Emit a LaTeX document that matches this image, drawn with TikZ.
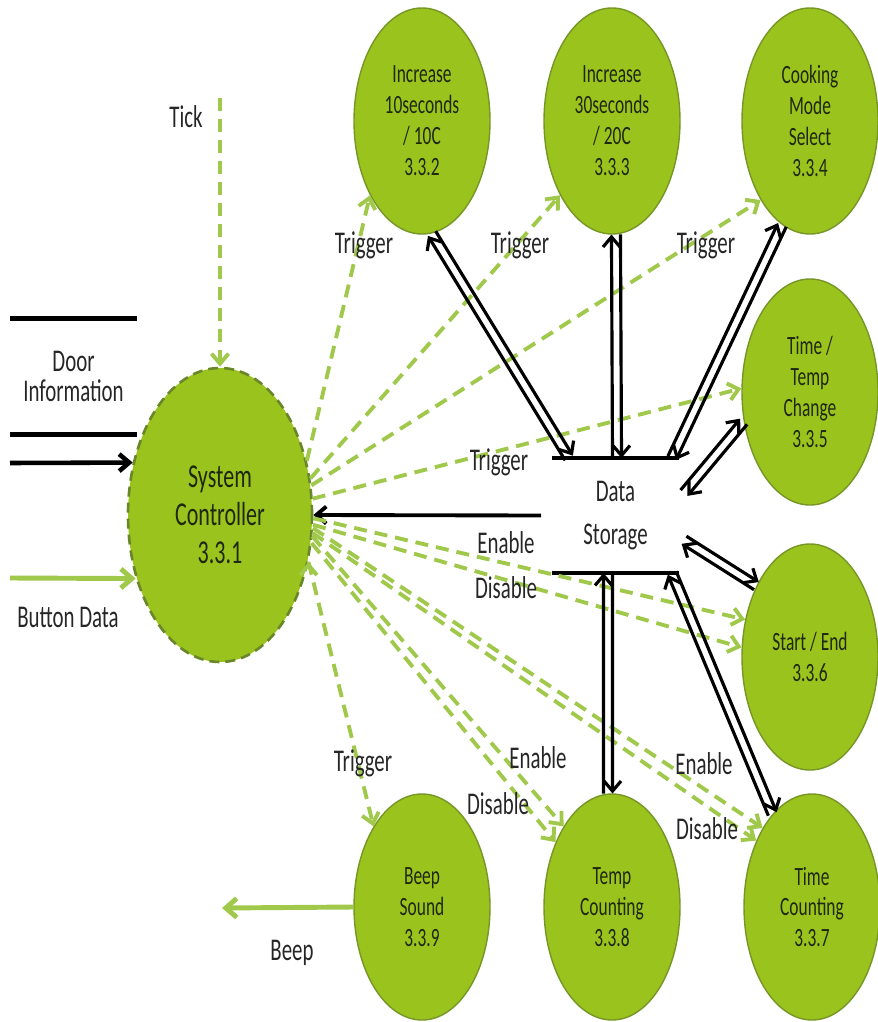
\documentclass[tikz,border=0pt]{standalone}
\usepackage{fontspec}
\setmainfont[FakeStretch=0.66]{Carlito}
\usetikzlibrary{shapes.geometric, arrows.meta, calc}

\definecolor{bubble}{RGB}{155,195,30}
\definecolor{bubbleedge}{RGB}{118,150,38}
\definecolor{ctrledge}{RGB}{105,135,40}
\definecolor{signal}{RGB}{160,200,75}
\definecolor{inktext}{RGB}{30,40,15}

\tikzset{
  proc/.style={ellipse, draw=bubbleedge, line width=0.8pt, fill=bubble, minimum width=27.2mm,
    minimum height=45.2mm, inner sep=0pt, align=center, text=inktext,
    font=\fontsize{15}{17.6}\selectfont},
  sysctrl/.style={draw=ctrledge, line width=1.5pt, dash pattern=on 2mm off 1.2mm,
    minimum width=36.8mm, minimum height=58.8mm, font=\fontsize{19}{21.5}\selectfont},
  lbl/.style={font=\fontsize{18}{21}\selectfont, inner sep=0pt, align=center, text=black!85},
  store/.style={lbl, minimum width=25.2mm, minimum height=23mm},
  flow/.style={-{Straight Barb[length=2mm,width=3.4mm]}, line width=1.8pt},
  ctl/.style={-{Straight Barb[length=2mm,width=3.4mm]}, draw=signal, line width=2.2pt,
    dash pattern=on 2.6mm off 1.6mm},
  sig/.style={-{Straight Barb[length=2.2mm,width=3.8mm]}, draw=signal, line width=2.8pt},
}

% two flows side by side, one each way
\newcommand{\twoway}[2]{%
  \draw[flow] ($(#1)!0.9mm!90:(#2)$) -- ($(#2)!0.9mm!-90:(#1)$);
  \draw[flow] ($(#2)!0.9mm!90:(#1)$) -- ($(#1)!0.9mm!-90:(#2)$);
}

\begin{document}
\begin{tikzpicture}[x=0.2mm, y=-0.2mm]
  \useasboundingbox (0,0) rectangle (877,1022);

  % processes
  \node[proc, sysctrl] (p1) at (220,515) {System\\Controller\\3.3.1};
  \node[proc] (p2) at (422,121) {Increase\\10seconds\\/ 10C\\3.3.2};
  \node[proc] (p3) at (612,121) {Increase\\30seconds\\/ 20C\\3.3.3};
  \node[proc] (p4) at (810,121) {Cooking\\Mode\\Select\\3.3.4};
  \node[proc] (p5) at (810,392) {Time /\\Temp\\Change\\3.3.5};
  \node[proc] (p6) at (810,657) {Start / End\\3.3.6};
  \node[proc] (p7) at (812,907) {Time\\Counting\\3.3.7};
  \node[proc] (p8) at (612,907) {Temp\\Counting\\3.3.8};
  \node[proc] (p9) at (422,907) {Beep\\Sound\\3.3.9};

  % stores
  \node[store, font=\fontsize{18}{17}\selectfont] (door) at (73.5,376.5) {Door\\Information};
  \node[store, font=\fontsize{18}{24}\selectfont] (ds) at (615.5,515.5) {Data\\Storage};
  \draw[line width=2.6pt] (door.north west) -- (door.north east)
    (door.south west) -- (door.south east);
  \draw[line width=2.2pt] (ds.north west) -- (ds.north east)
    (ds.south west) -- (ds.south east);

  % outside
  \coordinate (tick) at (220,98);
  \coordinate (doorin) at (10,463);
  \coordinate (btn) at (10,578);
  \coordinate (beep) at (222,908);
  \node[lbl] (ltick) at (186,117) {Tick};
  \node[lbl] (lbtn) at (68,617) {Button Data};
  \node[lbl] (lbeep) at (292,953) {Beep};

  \draw[ctl] (tick) -- (p1.north);
  \draw[flow, line width=2.6pt] (doorin) -- (p1.149);
  \draw[sig] (btn) -- (p1.217);
  \draw[sig] (p9.west) -- (beep);
  \draw[flow, line width=2.2pt] ([xshift=-2.2mm]ds.west) -- (p1.east);

  % control signals
  \path[ctl]
    (p1.32) edge (p2.235)
    (p1.22) edge (p3.235)
    (p1.18) edge (p4.238)
    (p1.10) edge (p5.177)
    (p1.-2) edge (p6.150)
    (p1.-6) edge (p6.172)
    (p1.-8) edge (p7.122)
    (p1.-11) edge (p7.130)
    (p1.-13) edge (p8.121)
    (p1.-17) edge (p8.131)
    (p1.-28) edge (p9.121);

  \node[lbl] (l2) at (364,245) {Trigger};
  \node[lbl] (l3) at (520,245) {Trigger};
  \node[lbl] (l4) at (706,245) {Trigger};
  \node[lbl] (l5) at (499,462) {Trigger};
  \node[lbl] (l6a) at (506,543) {Enable};
  \node[lbl] (l6b) at (506,588) {Disable};
  \node[lbl] (l7a) at (704,764) {Enable};
  \node[lbl] (l7b) at (707,829) {Disable};
  \node[lbl] (l8a) at (538,758) {Enable};
  \node[lbl] (l8b) at (498,804) {Disable};
  \node[lbl] (l9) at (363,763) {Trigger};

  % data flows to and from the store
  \coordinate (ds2) at (569,458);
  \coordinate (ds3) at (617,458);
  \coordinate (ds4) at (672,458);
  \coordinate (ds5) at (684,493);
  \coordinate (ds6) at (684,540);
  \coordinate (ds7) at (672,573);
  \coordinate (ds8) at (608,573);
  \twoway{ds2}{p2.-85}
  \twoway{ds3}{p3.-88}
  \twoway{ds4}{p4.-105}
  \twoway{ds5}{p5.204}
  \twoway{ds6}{p6.127}
  \twoway{ds7}{p7.113}
  \twoway{ds8}{p8.92}
\end{tikzpicture}
\end{document}
